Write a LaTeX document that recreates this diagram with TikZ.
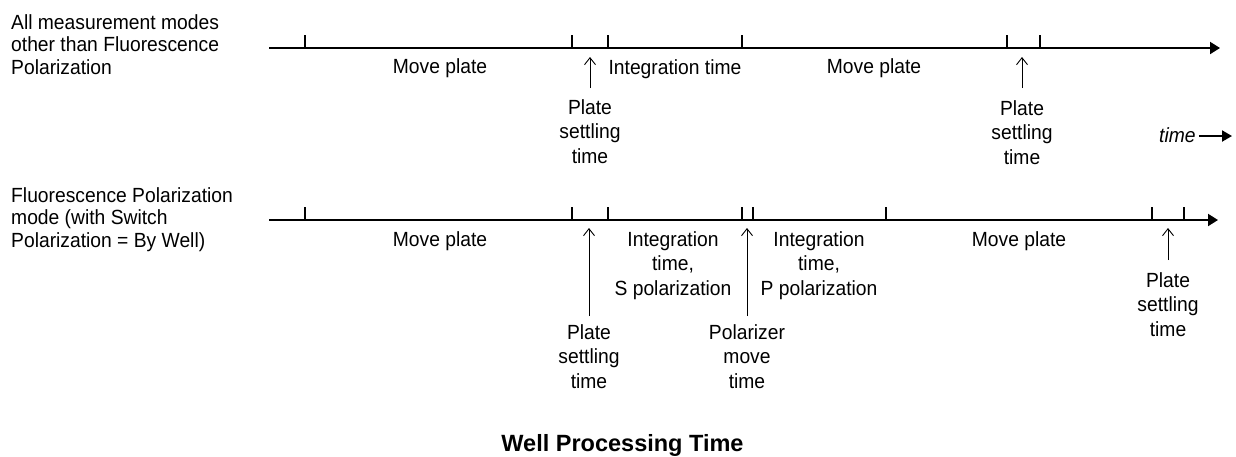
\documentclass[tikz,border=0pt]{standalone}
\usepackage{fontspec}
\setmainfont{Liberation Sans}
\newfontfamily\condsans[FakeStretch=0.94]{Liberation Sans}
\usetikzlibrary{arrows.meta}
\begin{document}
\begin{tikzpicture}[x=1pt,y=-1pt,
  timeline/.style={line width=2pt,-{Triangle[length=10pt,width=12pt]}},
  tickmark/.style={line width=2pt},
  lbl/.style={inner sep=0pt,anchor=north,align=center,
    font=\condsans\fontsize{20.5}{24.5}\selectfont},
  side/.style={inner sep=0pt,anchor=north west,align=left,
    font=\condsans\fontsize{20.5}{22.5}\selectfont},
  pointer/.style={line width=0.9pt,-{Straight Barb[length=7pt,width=11pt]}},
]
\useasboundingbox (0,0) rectangle (1236,456);

% ---- upper timeline: all modes except FP ----
\node[side] (mode1) at (11,14) {All measurement modes\\other than Fluorescence\\Polarization};
\coordinate (a1s) at (269,48);
\coordinate (a1e) at (1220,48);
\draw[timeline] (a1s) -- (a1e);
\foreach \x in {305,572,608,742,1007,1040}
  \draw[tickmark] (\x,35) -- (\x,48);

\node[lbl] (m1a) at (440,58) {Move plate};
\node[lbl] (i1) at (675,59) {Integration time};
\node[lbl] (m1b) at (874,58) {Move plate};

\node[lbl] (ps1a) at (590,99) {Plate\\settling\\time};
\coordinate (ps1aT) at (590,57);
\draw[pointer] ([yshift=11pt]ps1a.north) -- (ps1aT);

\node[lbl] (ps1b) at (1022,100) {Plate\\settling\\time};
\coordinate (ps1bT) at (1022,57);
\draw[pointer] ([yshift=12pt]ps1b.north) -- (ps1bT);

% time direction marker
\node[anchor=base west,inner sep=0pt,font=\condsans\itshape\fontsize{20.5}{24}\selectfont]
  (timelbl) at (1159,142) {time};
\coordinate (timetip) at (1232,136);
\draw[line width=2pt,-{Triangle[length=10pt,width=11pt]}]
  ([xshift=3pt]timelbl.east |- timetip) -- (timetip);

% ---- lower timeline: FP mode, switch by well ----
\node[side] (mode2) at (11,187) {Fluorescence Polarization\\mode (with Switch\\Polarization = By Well)};
\coordinate (a2s) at (269,220);
\coordinate (a2e) at (1218,220);
\draw[timeline] (a2s) -- (a2e);
\foreach \x in {305,572,608,742,753,886,1152,1184}
  \draw[tickmark] (\x,207) -- (\x,220);

\node[lbl] (m2a) at (440,231) {Move plate};
\node[lbl] (i2s) at (673,231) {Integration\\time,\\S polarization};
\node[lbl] (i2p) at (819,231) {Integration\\time,\\P polarization};
\node[lbl] (m2b) at (1019,231) {Move plate};

\node[lbl] (ps2a) at (589,324) {Plate\\settling\\time};
\coordinate (ps2aT) at (589,228);
\draw[pointer] ([yshift=8pt]ps2a.north) -- (ps2aT);

\node[lbl] (pm2) at (747,324) {Polarizer\\move\\time};
\coordinate (pm2T) at (747,228);
\draw[pointer] ([yshift=8pt]pm2.north) -- (pm2T);

\node[lbl] (ps2b) at (1168,272) {Plate\\settling\\time};
\coordinate (ps2bT) at (1168,228);
\draw[pointer] ([yshift=12pt]ps2b.north) -- (ps2bT);

% ---- caption ----
\node[anchor=base,inner sep=0pt,font=\bfseries\fontsize{23.5}{28}\selectfont]
  (title) at (622.5,451) {Well Processing Time};
\end{tikzpicture}
\end{document}
